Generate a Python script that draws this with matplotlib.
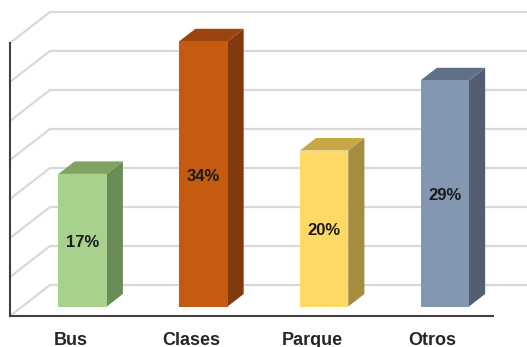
import matplotlib
matplotlib.use("Agg")
import matplotlib.pyplot as plt
from matplotlib.patches import Polygon

categories = ["Bus", "Clases", "Parque", "Otros"]
values = [17, 34, 20, 29]
value_labels = ["17%", "34%", "20%", "29%"]
grid_values = [0, 5, 10, 15, 20, 25, 30, 35]

front_colors = ["#A9D18E", "#C55A11", "#FFD966", "#8497B0"]
top_colors = ["#7EA363", "#9B4410", "#C7A843", "#5F7088"]
side_colors = ["#6B8C57", "#803A0C", "#A68C3E", "#525F72"]

# depth direction of the pseudo-3D view (data units per full depth)
DX, DY = 0.331, 3.97
T0, T1 = 0.306, 0.71      # bar front / back depth
W = 0.40                  # bar width

plt.rcParams["font.family"] = ["Liberation Sans", "DejaVu Sans"]

fig = plt.figure(figsize=(5.27, 3.47), dpi=100)
ax = fig.add_axes([0, 0, 1, 1])
ax.set_xlim(-0.5828, 3.7816)
ax.set_ylim(-3.974, 40.51)
ax.axis("off")

x0, x1 = -0.5, 3.5
# back wall gridlines and the diagonals down the left wall
for g in grid_values:
    ax.plot([x0 + DX, 4.5], [g + DY, g + DY], color="#D9D9D9", lw=1.6,
            solid_capstyle="butt", zorder=1)
    ax.plot([x0, x0 + DX], [g, g + DY], color="#D9D9D9", lw=1.6, zorder=1)

# front axis lines
ax.plot([x0, x0], [0, grid_values[-1]], color="#404040", lw=1.5, zorder=5)
ax.plot([x0, x1], [0, 0], color="#404040", lw=1.5, zorder=5)

for i, (v, lab) in enumerate(zip(values, value_labels)):
    left = i - W / 2 + T0 * DX
    right = i + W / 2 + T0 * DX
    # side face
    side = Polygon([(right, T0 * DY), (right + (T1 - T0) * DX, T1 * DY),
                    (right + (T1 - T0) * DX, v + T1 * DY), (right, v + T0 * DY)],
                   closed=True, facecolor=side_colors[i], edgecolor="none", zorder=3)
    ax.add_patch(side)
    # top face
    top = Polygon([(left, v + T0 * DY), (right, v + T0 * DY),
                   (right + (T1 - T0) * DX, v + T1 * DY),
                   (left + (T1 - T0) * DX, v + T1 * DY)],
                  closed=True, facecolor=top_colors[i], edgecolor="none", zorder=3)
    ax.add_patch(top)
    # front face
    ax.bar(i + T0 * DX, v, width=W, bottom=T0 * DY, color=front_colors[i],
           edgecolor="none", zorder=4)
    ax.text(i + T0 * DX, v / 2 + T0 * DY - 0.3, lab, ha="center", va="center",
            fontsize=12, fontweight="bold", color="#1a1a1a", zorder=6)
    ax.text(i, -3.08, categories[i], ha="center", va="center",
            fontsize=13, fontweight="bold", color="#262626", zorder=6)

fig.savefig("out.png", dpi=100)
